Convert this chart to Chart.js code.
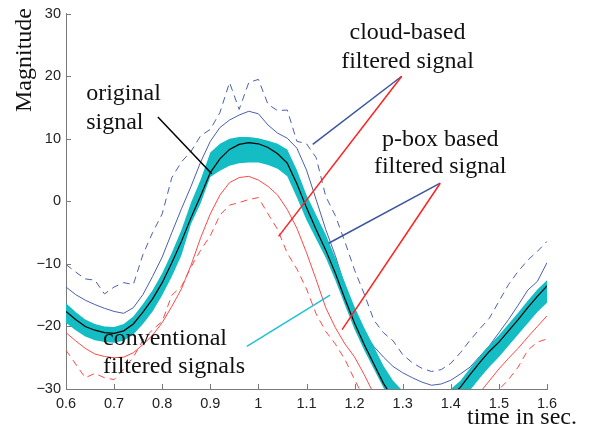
<!DOCTYPE html>
<html>
<head>
<meta charset="utf-8">
<script src="https://cdn.jsdelivr.net/npm/chart.js@4/dist/chart.umd.min.js"></script>
<style>
  html, body { margin: 0; padding: 0; background: #fff; }
  #wrap { width: 589px; height: 432px; }
</style>
</head>
<body>
<div id="wrap"><canvas id="sigChart"></canvas></div>
<script>
// time axis (s)
const times = [0.60, 0.62, 0.64, 0.66, 0.68, 0.70, 0.72, 0.74, 0.76, 0.78,
               0.80, 0.82, 0.84, 0.86, 0.88, 0.90, 0.92, 0.94, 0.96, 0.98,
               1.00, 1.02, 1.04, 1.06, 1.08, 1.10, 1.12, 1.14, 1.16, 1.18,
               1.20, 1.22, 1.24, 1.26, 1.28, 1.30, 1.32, 1.34, 1.36, 1.38,
               1.40, 1.42, 1.44, 1.46, 1.48, 1.50, 1.52, 1.54, 1.56, 1.58, 1.60];

const original = [-17.6, -18.9, -20.0, -20.6, -21.0, -21.1, -20.7, -19.6, -17.7, -15.6,
                  -13.0, -9.8, -6.4, -2.6, 0.9, 4.6, 6.8, 8.3, 9.1, 9.4,
                  9.2, 8.6, 7.6, 6.1, 2.8, -1.0, -4.5, -7.8, -11.5, -15.6,
                  -19.5, -22.9, -26.0, -29.1, -31.5, -33.0, -33.8, -34.0, -33.6, -32.6,
                  -31.3, -29.7, -27.7, -25.8, -24.0, -22.5, -20.7, -18.9, -17.0, -15.2, -13.5];

// envelope of the conventional filtered signals (cyan band)
const convUpper = [-16.3, -17.7, -18.9, -19.6, -20.0, -20.1, -19.6, -18.4, -16.4, -14.2,
                   -11.5, -8.2, -4.6, -0.2, 3.5, 7.8, 9.2, 10.0, 10.3, 10.3,
                   10.1, 9.7, 9.2, 8.3, 5.0, 1.0, -2.2, -5.3, -9.0, -13.0,
                   -16.9, -20.2, -23.2, -26.3, -28.7, -30.3, -31.2, -31.6, -31.4, -30.8,
                   -30.0, -28.7, -26.7, -24.8, -23.0, -21.4, -19.6, -17.8, -15.9, -14.1, -12.6];
const convLower = [-19.4, -20.6, -21.6, -22.2, -22.5, -22.6, -22.3, -21.3, -19.6, -17.6,
                   -15.0, -12.0, -8.6, -3.6, -0.3, 3.9, 4.9, 5.7, 6.1, 6.2,
                   6.2, 5.8, 5.2, 4.0, 0.6, -3.0, -6.0, -9.0, -12.6, -16.6,
                   -20.5, -23.8, -26.8, -29.8, -32.2, -33.7, -34.5, -34.7, -34.4, -33.6,
                   -32.8, -32.2, -30.2, -28.3, -26.5, -24.9, -23.1, -21.3, -19.5, -17.7, -16.2];

// p-box based filtered signal
const pboxUpper = [-13.7, -14.9, -15.8, -16.5, -17.1, -17.6, -17.9, -17.0, -14.9, -12.0,
                   -8.9, -5.0, -1.2, 2.4, 6.3, 9.6, 11.8, 13.0, 13.8, 14.4,
                   14.0, 12.2, 10.9, 10.1, 8.5, 5.0, 0.3, -4.5, -8.7, -13.6,
                   -18.0, -21.0, -23.2, -24.9, -26.4, -27.4, -28.2, -28.9, -29.4, -29.2,
                   -28.6, -27.6, -26.5, -24.8, -23.1, -21.0, -18.9, -16.6, -14.2, -12.8, -9.8];
const pboxLower = [-21.0, -22.3, -23.5, -24.4, -24.8, -25.0, -24.9, -24.2, -22.9, -21.4,
                   -19.4, -16.8, -14.0, -10.2, -5.8, -2.0, 1.0, 3.0, 3.8, 4.0,
                   3.4, 2.4, 1.0, -1.3, -4.3, -8.2, -12.5, -17.0, -20.2, -22.8,
                   -24.9, -27.7, -30.8, -33.0, -35.0, -36.5, -37.5, -38.0, -38.0, -37.2,
                   -36.0, -34.5, -32.5, -30.6, -28.7, -26.8, -25.1, -23.5, -21.7, -20.0, -18.3];

// cloud-based filtered signal
const cloudUpper = [-10.1, -11.3, -12.4, -12.6, -14.8, -13.7, -13.0, -13.3, -8.5, -5.0,
                    -2.0, 3.8, 6.3, 8.0, 10.5, 11.5, 14.2, 19.0, 14.7, 19.0,
                    19.5, 15.5, 14.5, 14.6, 9.6, 9.2, 7.0, 0.8, -2.3, -6.5,
                    -11.0, -14.8, -19.0, -21.0, -22.3, -24.5, -25.8, -26.7, -27.2, -26.9,
                    -25.9, -24.2, -22.2, -20.4, -18.7, -16.0, -13.3, -11.2, -9.4, -8.0, -6.4];
const cloudLower = [-23.8, -26.0, -28.2, -27.5, -28.2, -28.5, -26.8, -24.9, -22.2, -20.5,
                    -19.2, -15.0, -13.6, -10.5, -7.8, -5.5, -2.2, -0.6, -0.2, 0.3,
                    0.6, -2.0, -4.5, -8.3, -10.8, -14.0, -18.0, -20.8, -22.8, -25.3,
                    -28.5, -31.5, -34.0, -36.0, -37.5, -38.5, -39.5, -40.0, -40.0, -39.5,
                    -38.0, -36.5, -35.0, -33.5, -32.0, -30.1, -28.5, -26.5, -23.8, -22.5, -22.0];

const yTicks = [-30, -20, -10, 0, 10, 20, 30];
const xTicks = [0.6, 0.7, 0.8, 0.9, 1.0, 1.1, 1.2, 1.3, 1.4, 1.5, 1.6];

// callout texts and leader lines, in data units
const callouts = [
  { lines: ['original', 'signal'], x: 0.642, y: [17.2, 12.6], align: 'left',
    leaders: [{ from: [0.791, 13.5], to: [0.903, 4.4], color: '#000000' }] },
  { lines: ['cloud-based', 'filtered signal'], x: 1.31, y: [27.0, 22.4], align: 'center',
    leaders: [{ from: [1.298, 20.0], to: [1.113, 9.1], color: '#3b55a0' },
              { from: [1.298, 20.0], to: [1.042, -5.6], color: '#ff2020' }] },
  { lines: ['p-box based', 'filtered signal'], x: 1.378, y: [9.9, 5.5], align: 'center',
    leaders: [{ from: [1.378, 2.9], to: [1.146, -6.7], color: '#3b55a0' },
              { from: [1.378, 2.9], to: [1.174, -20.5], color: '#ff2020' }] },
  { lines: ['conventional', 'filtered signals'], x: 0.677, y: [-21.9, -26.5], align: 'left',
    leaders: [{ from: [0.976, -23.2], to: [1.149, -15.0], color: '#1fc0d8' }] }
];

const pts = ys => times.map((t, i) => ({ x: t, y: ys[i] }));
const minus = v => (v < 0 ? '\u2212' + Math.abs(v) : String(v));

const SERIF = '"Liberation Serif", "Times New Roman", serif';
const SANS = '"Liberation Sans", Arial, sans-serif';

const annotate = {
  id: 'annotate',
  afterDraw(chart) {
    const { ctx, scales: { x, y }, chartArea } = chart;
    ctx.save();
    // inward ticks
    ctx.strokeStyle = '#7a7a7a';
    ctx.lineWidth = 1;
    ctx.beginPath();
    yTicks.forEach(v => {
      const py = Math.round(y.getPixelForValue(v)) + 0.5;
      ctx.moveTo(chartArea.left, py);
      ctx.lineTo(chartArea.left + 5, py);
    });
    xTicks.forEach(v => {
      const px = Math.round(x.getPixelForValue(v)) + 0.5;
      ctx.moveTo(px, chartArea.bottom);
      ctx.lineTo(px, chartArea.bottom - 5);
    });
    ctx.stroke();

    // leader lines
    ctx.lineWidth = 1.5;
    callouts.forEach(c => c.leaders.forEach(l => {
      ctx.strokeStyle = l.color;
      ctx.beginPath();
      ctx.moveTo(x.getPixelForValue(l.from[0]), y.getPixelForValue(l.from[1]));
      ctx.lineTo(x.getPixelForValue(l.to[0]), y.getPixelForValue(l.to[1]));
      ctx.stroke();
    }));

    // callout texts
    ctx.fillStyle = '#111';
    ctx.font = '24px ' + SERIF;
    ctx.textBaseline = 'middle';
    callouts.forEach(c => {
      ctx.textAlign = c.align;
      c.lines.forEach((s, i) => {
        ctx.fillText(s, x.getPixelForValue(c.x), y.getPixelForValue(c.y[i]));
      });
    });

    // axis titles
    ctx.textAlign = 'right';
    ctx.fillText('time in sec.', chart.width - 12, 418);
    ctx.translate(25, 60);
    ctx.rotate(-Math.PI / 2);
    ctx.textAlign = 'center';
    ctx.fillText('Magnitude', 0, 0);
    ctx.restore();
  }
};

const line = (label, ys, color, extra) => Object.assign({
  label, data: pts(ys), borderColor: color, borderWidth: 1,
  pointRadius: 0, fill: false, tension: 0
}, extra || {});

new Chart(document.getElementById('sigChart'), {
  type: 'line',
  data: {
    datasets: [
      line('original signal', original, '#000000', { borderWidth: 1.2 }),
      line('conventional upper', convUpper, 'rgba(0,0,0,0)', { borderWidth: 0, fill: '+1', backgroundColor: '#14bcc4' }),
      line('conventional lower', convLower, 'rgba(0,0,0,0)', { borderWidth: 0 }),
      line('p-box upper', pboxUpper, '#4a5fae'),
      line('p-box lower', pboxLower, '#ff4848'),
      line('cloud upper', cloudUpper, '#4a5fae', { borderDash: [7, 5] }),
      line('cloud lower', cloudLower, '#ff4848', { borderDash: [7, 5] })
    ]
  },
  options: {
    responsive: true,
    maintainAspectRatio: false,
    animation: false,
    layout: { padding: { top: 10, right: 42, left: 0, bottom: 0 } },
    plugins: { legend: { display: false }, tooltip: { enabled: false } },
    scales: {
      x: {
        type: 'linear', min: 0.6, max: 1.6,
        afterFit: s => { s.height = 43; },
        afterBuildTicks: s => { s.ticks = xTicks.map(v => ({ value: v })); },
        grid: { display: false, drawTicks: false },
        border: { color: '#7a7a7a', width: 1 },
        ticks: { padding: 6, color: '#222', font: { family: SANS, size: 14.5 },
                 maxRotation: 0, callback: v => String(Number(v.toFixed(1))) }
      },
      y: {
        min: -30, max: 30,
        afterFit: s => { s.width = 66; },
        afterBuildTicks: s => { s.ticks = yTicks.map(v => ({ value: v })); },
        grid: { display: false, drawTicks: false },
        border: { color: '#7a7a7a', width: 1 },
        ticks: { padding: 5, color: '#222', font: { family: SANS, size: 14.5 },
                 callback: v => minus(v) }
      }
    }
  },
  plugins: [annotate]
});
</script>
</body>
</html>
